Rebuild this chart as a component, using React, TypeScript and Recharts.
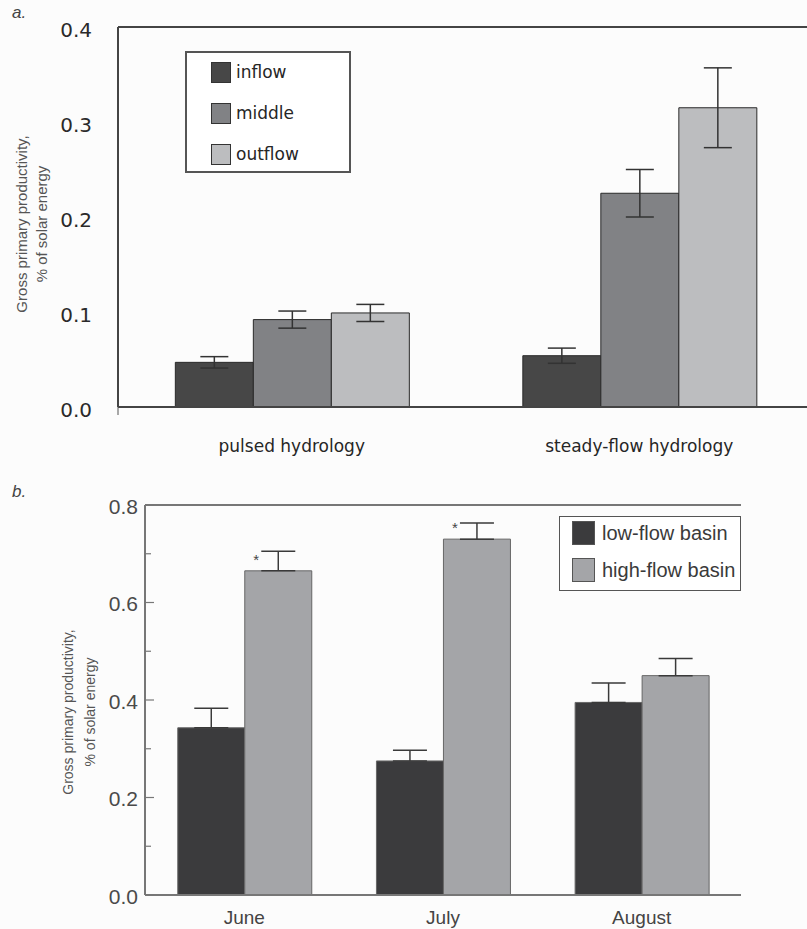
import React from 'react';
import { BarChart, Bar, XAxis, YAxis, ErrorBar, ReferenceLine, Legend, LabelList } from 'recharts';

// Panel a: GPP by wetland position under two hydrologic regimes
const hydrologyTypes = ['pulsed hydrology', 'steady-flow hydrology'];
const inflowGpp = [0.047, 0.054];
const inflowSe = [0.006, 0.008];
const middleGpp = [0.092, 0.225];
const middleSe = [0.009, 0.025];
const outflowGpp = [0.099, 0.315];
const outflowSe = [0.009, 0.042];
const panelATicks = [0, 0.1, 0.2, 0.3, 0.4];

// Panel b: GPP by month for the two basins
const months = ['June', 'July', 'August'];
const lowFlowGpp = [0.343, 0.275, 0.395];
const lowFlowSe = [0.04, 0.022, 0.04];
const highFlowGpp = [0.665, 0.73, 0.45];
const highFlowSe = [0.04, 0.033, 0.035];
const significance = ['*', '*', ''];
const panelBTicks = [0, 0.1, 0.2, 0.3, 0.4, 0.5, 0.6, 0.7, 0.8];

const positionSeries = [
  { key: 'inflow', name: 'inflow', fill: '#474747' },
  { key: 'middle', name: 'middle', fill: '#818285' },
  { key: 'outflow', name: 'outflow', fill: '#bcbdbf' },
];
const basinSeries = [
  { key: 'low', name: 'low-flow basin', fill: '#3b3b3d' },
  { key: 'high', name: 'high-flow basin', fill: '#a4a5a8' },
];

const hydrologyData = hydrologyTypes.map((category, i) => ({
  category,
  inflow: inflowGpp[i],
  inflowErr: inflowSe[i],
  middle: middleGpp[i],
  middleErr: middleSe[i],
  outflow: outflowGpp[i],
  outflowErr: outflowSe[i],
}));

const monthData = months.map((month, i) => ({
  month,
  low: lowFlowGpp[i],
  lowErr: [0, lowFlowSe[i]],
  high: highFlowGpp[i],
  highErr: [0, highFlowSe[i]],
  sig: significance[i],
}));

const VERDANA = '"DejaVu Sans", Verdana, sans-serif';
const ARIAL = '"Liberation Sans", Arial, Helvetica, sans-serif';

// keep legend entries in series order
const orderBy = (items: any[], series: { name: string }[]) =>
  series.map((s) => items.find((it) => it.value === s.name)).filter(Boolean);

const panelACategoryTick = (props: any) => {
  const { x, y, payload } = props;
  return (
    <text x={x} y={y + 45} textAnchor="middle" fontFamily={VERDANA} fontSize={17} fill="#262626">
      {payload.value}
    </text>
  );
};

const panelAValueTick = (props: any) => {
  const { x, y, payload } = props;
  return (
    <g>
      <text x={x - 26} y={y + 3} textAnchor="end" dominantBaseline="central" fontFamily={VERDANA} fontSize={20} fill="#2a2a2a">
        {payload.value.toFixed(1)}
      </text>
      {payload.value === 0 ? <line x1={x} y1={y} x2={x} y2={y + 8} stroke="#555" strokeWidth={1} /> : null}
    </g>
  );
};

const panelBCategoryTick = (props: any) => {
  const { x, y, payload } = props;
  return (
    <text x={x} y={y + 29} textAnchor="middle" fontFamily={ARIAL} fontSize={19} fill="#444">
      {payload.value}
    </text>
  );
};

const panelBValueTick = (props: any) => {
  const { x, y, payload } = props;
  const major = Math.round(payload.value * 10) % 2 === 0;
  return (
    <g>
      <line x1={x} y1={y} x2={x + (major ? 9 : 6)} y2={y} stroke="#777" strokeWidth={1.2} />
      {major ? (
        <text x={x - 7} y={y + 1} textAnchor="end" dominantBaseline="central" fontFamily={ARIAL} fontSize={21} fill="#4a4a4a">
          {payload.value.toFixed(1)}
        </text>
      ) : null}
    </g>
  );
};

const axisTitle = (cx1: number, cx2: number, cy: number, size: number) => () => (
  <g fontFamily={ARIAL} fontSize={size} fill="#555" textAnchor="middle">
    <text x={cx1} y={cy} transform={`rotate(-90 ${cx1} ${cy})`} dominantBaseline="central">
      Gross primary productivity,
    </text>
    <text x={cx2} y={cy} transform={`rotate(-90 ${cx2} ${cy})`} dominantBaseline="central">
      % of solar energy
    </text>
  </g>
);

const panelALegend = (props: any) => {
  const items = orderBy(props.payload || [], positionSeries);
  return (
    <div style={{ position: 'relative', width: 166, height: 122, boxSizing: 'border-box', border: '2px solid #555', background: '#fff' }}>
      {items.map((it: any, i: number) => (
        <div key={it.value} style={{ position: 'absolute', left: 24, top: 8 + i * 41, height: 22, display: 'flex', alignItems: 'center' }}>
          <div style={{ width: 18, height: 19, background: it.color, border: '1.5px solid #333' }} />
          <span style={{ marginLeft: 5, fontFamily: VERDANA, fontSize: 17, color: '#262626', lineHeight: '22px' }}>{it.value}</span>
        </div>
      ))}
    </div>
  );
};

const panelBLegend = (props: any) => {
  const items = orderBy(props.payload || [], basinSeries);
  return (
    <div style={{ position: 'relative', width: 182, height: 75, boxSizing: 'border-box', border: '1.5px solid #555', background: '#fff' }}>
      {items.map((it: any, i: number) => (
        <div key={it.value} style={{ position: 'absolute', left: 12, top: 4 + i * 37, height: 24, display: 'flex', alignItems: 'center' }}>
          <div style={{ width: 21, height: 22, background: it.color, border: '1px solid #555' }} />
          <span style={{ marginLeft: 7, fontFamily: ARIAL, fontSize: 20, color: '#3a3a3a', lineHeight: '24px' }}>{it.value}</span>
        </div>
      ))}
    </div>
  );
};

const significanceMark = (props: any) => {
  const { x, y, width, value } = props;
  if (!value) return null;
  return (
    <text x={x + width / 2 - 22} y={y - 6} textAnchor="middle" fontFamily={ARIAL} fontSize={15} fill="#444">
      {value}
    </text>
  );
};

export default function App() {
  return (
    <div style={{ position: 'absolute', left: 0, top: 0, width: 807, height: 929, overflow: 'hidden', background: '#fcfcfc' }}>
      <div style={{ position: 'absolute', left: 12, top: 3, fontFamily: ARIAL, fontStyle: 'italic', fontSize: 17, color: '#444' }}>a.</div>
      <div style={{ position: 'absolute', left: 0, top: 0 }}>
        <BarChart
          width={820}
          height={470}
          data={hydrologyData}
          margin={{ top: 27, right: 7, left: 0, bottom: 0 }}
          barGap={0}
          barCategoryGap="16.5%"
        >
          <XAxis
            dataKey="category"
            height={63}
            interval={0}
            axisLine={{ stroke: '#444', strokeWidth: 2 }}
            tickLine={false}
            tickSize={0}
            tickMargin={0}
            tick={panelACategoryTick}
          />
          <YAxis
            domain={[0, 0.4]}
            ticks={panelATicks}
            width={118}
            axisLine={{ stroke: '#444', strokeWidth: 2 }}
            tickLine={false}
            tickSize={0}
            tickMargin={0}
            tick={panelAValueTick}
            label={{ content: axisTitle(21, 41, 224, 15) }}
          />
          <ReferenceLine y={0.4} stroke="#444" strokeWidth={2} />
          <Legend
            layout="vertical"
            align="center"
            verticalAlign="middle"
            wrapperStyle={{ left: 185, top: 51, width: 166 }}
            content={panelALegend}
          />
          {positionSeries.map((s) => (
            <Bar key={s.key} dataKey={s.key} name={s.name} fill={s.fill} stroke="#2a2a2a" strokeWidth={1} isAnimationActive={false}>
              <ErrorBar dataKey={`${s.key}Err`} width={14} stroke="#333" strokeWidth={1.5} />
            </Bar>
          ))}
        </BarChart>
      </div>

      <div style={{ position: 'absolute', left: 12, top: 482, fontFamily: ARIAL, fontStyle: 'italic', fontSize: 17, color: '#444' }}>b.</div>
      <div style={{ position: 'absolute', left: 0, top: 470 }}>
        <BarChart
          width={807}
          height={459}
          data={monthData}
          margin={{ top: 35, right: 66, left: 0, bottom: 0 }}
          barGap={0}
          barCategoryGap="16.5%"
        >
          <XAxis
            dataKey="month"
            height={34}
            interval={0}
            axisLine={{ stroke: '#777', strokeWidth: 2 }}
            tickLine={false}
            tickSize={0}
            tickMargin={0}
            tick={panelBCategoryTick}
          />
          <YAxis
            domain={[0, 0.8]}
            ticks={panelBTicks}
            width={145}
            axisLine={{ stroke: '#777', strokeWidth: 2 }}
            tickLine={false}
            tickSize={0}
            tickMargin={0}
            tick={panelBValueTick}
            label={{ content: axisTitle(68, 90, 242, 14) }}
          />
          <YAxis
            yAxisId="frame"
            orientation="right"
            width={0}
            domain={[0, 0.8]}
            tick={false}
            tickLine={false}
            axisLine={{ stroke: '#777', strokeWidth: 2 }}
          />
          <ReferenceLine y={0.8} stroke="#777" strokeWidth={2} />
          <Legend
            layout="vertical"
            align="center"
            verticalAlign="middle"
            wrapperStyle={{ left: 559, top: 46, width: 182 }}
            content={panelBLegend}
          />
          {basinSeries.map((s) => (
            <Bar key={s.key} dataKey={s.key} name={s.name} fill={s.fill} stroke="#666" strokeWidth={1} isAnimationActive={false}>
              <ErrorBar dataKey={`${s.key}Err`} width={17} stroke="#3a3a3a" strokeWidth={1.5} />
              {s.key === 'high' ? <LabelList dataKey="sig" content={significanceMark} /> : null}
            </Bar>
          ))}
        </BarChart>
      </div>
    </div>
  );
}
